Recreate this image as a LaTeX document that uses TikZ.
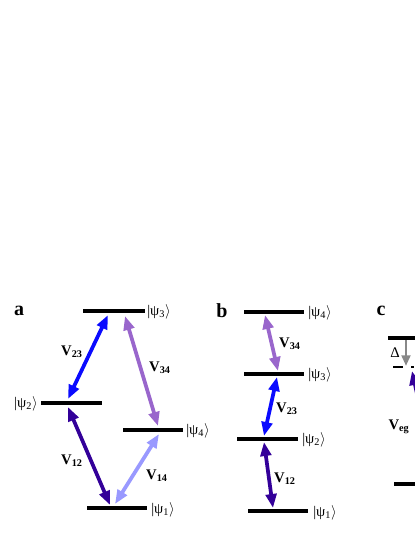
\documentclass[tikz,border=0pt]{standalone}
\usepackage{fontspec}
\setmainfont{Liberation Serif}
\usetikzlibrary{arrows.meta}
\definecolor{cblue}{HTML}{0A0AFF}
\definecolor{cpurple}{HTML}{9966CC}
\definecolor{cindigo}{HTML}{330099}
\definecolor{clav}{HTML}{9999FF}
\definecolor{cgray}{HTML}{888888}
\tikzset{
  level/.style={line width=3pt, black},
  dlarrow/.style={line width=2.8pt, {Triangle[length=10.5pt,width=8pt]}-{Triangle[length=10.5pt,width=8pt]}},
  ketlbl/.style={font=\fontsize{11}{13}\selectfont, inner sep=0pt},
  vlbl/.style={font=\fontsize{11}{13}\selectfont\bfseries, inner sep=0pt},
  panel/.style={font=\fontsize{15}{17}\selectfont\bfseries, inner sep=0pt}
}
\newcommand{\ket}[1]{|ψ\textsubscript{#1}$\rangle$}
\newcommand{\Vl}[1]{V\textsubscript{#1}}
\begin{document}
\begin{tikzpicture}[x=0.75pt,y=-0.75pt]
\useasboundingbox (0,0) rectangle (415,537);
% ---------------- panel a
\node[panel] (la) at (19,311) {a};
\draw[level] (83,311) -- (145,311);
\draw[level] (41,403) -- (102,403);
\draw[level] (123,430) -- (183,430);
\draw[level] (87,508) -- (147,508);
\node[ketlbl, anchor=west] (a3) at (147,312) {\ket{3}};
\node[ketlbl, anchor=east] (a2) at (38,404) {\ket{2}};
\node[ketlbl, anchor=west] (a4) at (186,431) {\ket{4}};
\node[ketlbl, anchor=west] (a1) at (151,510) {\ket{1}};
\coordinate (a23s) at (108,315);
\coordinate (a23e) at (68,399);
\coordinate (a34s) at (125,316);
\coordinate (a34e) at (158,426);
\coordinate (a12s) at (68,407);
\coordinate (a12e) at (110,505);
\coordinate (a14s) at (159,434);
\coordinate (a14e) at (115,504);
\draw[dlarrow, cblue] (a23s) -- (a23e);
\draw[dlarrow, cpurple] (a34s) -- (a34e);
\draw[dlarrow, cindigo] (a12s) -- (a12e);
\draw[dlarrow, clav] (a14s) -- (a14e);
\node[vlbl] (va23) at (72,352) {\Vl{23}};
\node[vlbl] (va34) at (160,368) {\Vl{34}};
\node[vlbl] (va12) at (72,461) {\Vl{12}};
\node[vlbl] (va14) at (157,476) {\Vl{14}};
% ---------------- panel b
\node[panel] (lb) at (222,311) {b};
\draw[level] (244,312) -- (304,312);
\draw[level] (244,374) -- (304,374);
\draw[level] (237,439) -- (298,439);
\draw[level] (248,511) -- (308,511);
\node[ketlbl, anchor=west] (b4) at (308,313) {\ket{4}};
\node[ketlbl, anchor=west] (b3) at (308,375) {\ket{3}};
\node[ketlbl, anchor=west] (b2) at (302,440) {\ket{2}};
\node[ketlbl, anchor=west] (b1) at (313,513) {\ket{1}};
\coordinate (b34s) at (265,315);
\coordinate (b34e) at (278,371);
\coordinate (b23s) at (277,377);
\coordinate (b23e) at (264,436);
\coordinate (b12s) at (264,442);
\coordinate (b12e) at (273,508);
\draw[dlarrow, cpurple] (b34s) -- (b34e);
\draw[dlarrow, cblue] (b23s) -- (b23e);
\draw[dlarrow, cindigo] (b12s) -- (b12e);
\node[vlbl] (vb34) at (290,344) {\Vl{34}};
\node[vlbl] (vb23) at (287,409) {\Vl{23}};
\node[vlbl] (vb12) at (285,479) {\Vl{12}};
% ---------------- panel c
\node[panel] (lc) at (381,311) {c};
\draw[level] (388,338) -- (420,338);
\draw[level] (394,484) -- (420,484);
\draw[line width=1.3pt] (393,367) -- (403,367);
\draw[line width=1.3pt] (411,367) -- (414,367);
\node[font=\fontsize{11}{13}\selectfont, inner sep=0pt] (dl) at (395,353) {Δ};
\coordinate (gs) at (406,340);
\coordinate (ge) at (406,366);
\draw[line width=2.2pt, cgray, -{Triangle[length=8pt,width=6.5pt]}] (gs) -- (ge);
\coordinate (cis) at (412,371);
\coordinate (cie) at (425,430);
\draw[dlarrow, cindigo] (cis) -- (cie);
\node[vlbl] (veg) at (399,427) {\Vl{eg}};
\end{tikzpicture}
\end{document}
